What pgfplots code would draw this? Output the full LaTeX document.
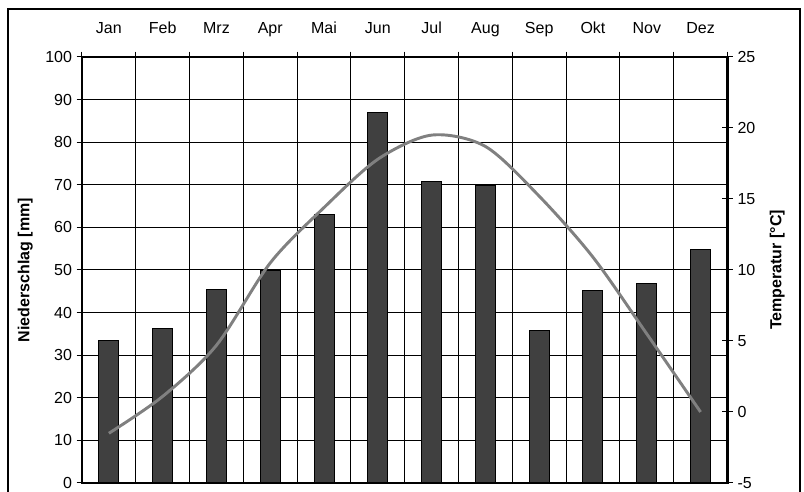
\documentclass[border=0pt]{standalone}
\usepackage{fontspec}
\setmainfont{Liberation Sans}
\usepackage{pgfplots}
\pgfplotsset{compat=1.18}

\definecolor{barfill}{RGB}{64,64,64}
\definecolor{templine}{RGB}{128,128,128}

\pgfplotsset{
    klima/.style={
        scale only axis,
        width=484.1pt, height=319.5pt,
        at={(61.5pt,6.75pt)}, anchor=south west,
        xmin=0.5, xmax=12.5,
        font=\fontsize{12}{14}\selectfont,
        /pgf/number format/assume math mode=true,
    },
}

\begin{document}
\begin{tikzpicture}
\useasboundingbox (0,0) rectangle (603pt,369pt);
\draw[line width=0.9pt] (6pt,-20pt) rectangle (600pt,362.25pt);

% Niederschlag (Balken)
\begin{axis}[
    klima,
    ymin=0, ymax=100,
    ytick={0,10,...,100},
    ymajorgrids,
    major grid style={black, line width=0.75pt},
    minor grid style={black, line width=0.75pt},
    xtick={1,...,12},
    xticklabels={Jan,Feb,Mrz,Apr,Mai,Jun,Jul,Aug,Sep,Okt,Nov,Dez},
    minor xtick={0.5,1.5,...,12.5},
    xminorgrids,
    xtick pos=right, xticklabel pos=right,
    ytick pos=left,
    tick align=outside,
    major x tick style={draw=none},
    minor x tick style={black, line width=0.75pt},
    major y tick style={black, line width=0.75pt},
    major tick length=4pt, minor tick length=4pt,
    axis line style={line width=1.6pt},
    xticklabel style={anchor=base, yshift=13.5pt},
    yticklabel style={anchor=east},
    ylabel={\bfseries Niederschlag [mm]},
    ylabel style={at={(axis description cs:-0.088,0.5)}, anchor=center},
]
\addplot[ybar, bar width=15pt, fill=barfill, draw=black, line width=0.75pt]
coordinates {
    (1,33.4) (2,36.2) (3,45.5) (4,49.8) (5,63.1) (6,86.9)
    (7,70.7) (8,69.8) (9,35.9) (10,45.1) (11,46.9) (12,54.8)
};
\end{axis}

% Temperatur (Linie)
\begin{axis}[
    klima,
    ymin=-5, ymax=25,
    ytick={-5,0,...,25},
    axis x line=none,
    axis y line*=right,
    ytick pos=right, yticklabel pos=right,
    tick align=center,
    major y tick style={black, line width=0.75pt},
    major tick length=8pt,
    axis line style={line width=1.6pt},
    yticklabel style={anchor=west},
    ylabel={\bfseries Temperatur [°C]},
    ylabel style={at={(axis description cs:1.077,0.5)}, anchor=center},
]
\addplot[templine, line width=2.2pt, smooth, mark=none]
coordinates {
    (1,-1.5) (2,1.1) (3,4.7) (4,10.5) (5,14.4) (6,17.8)
    (7,19.5) (8,18.7) (9,15.2) (10,10.9) (11,5.5) (12,0.0)
};
\end{axis}
\end{tikzpicture}
\end{document}
